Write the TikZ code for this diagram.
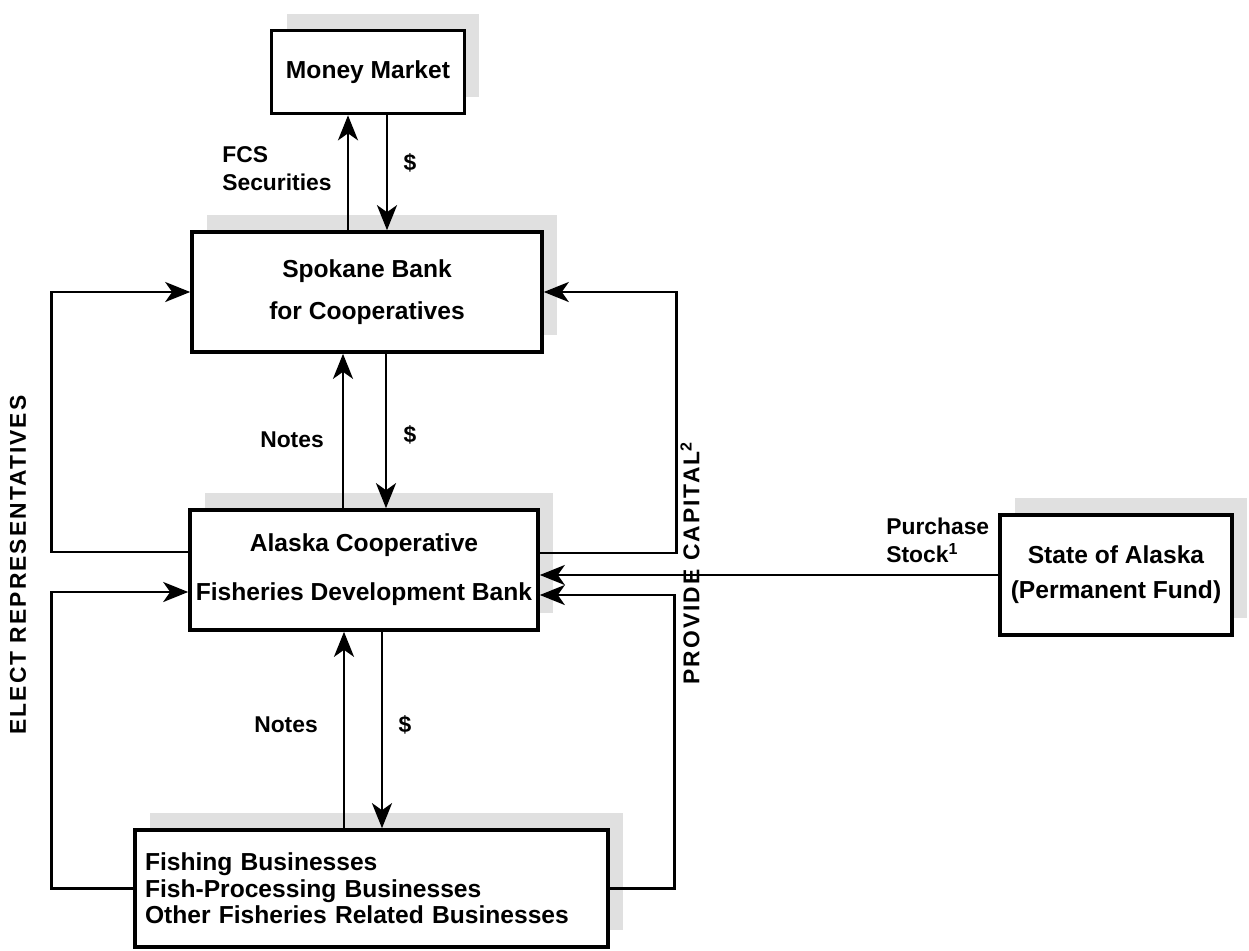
\documentclass[tikz,border=0pt]{standalone}
\usepackage{fontspec}
\setmainfont{Liberation Sans}
\usetikzlibrary{arrows.meta, shadows}
\tikzset{
  bx/.style = {draw=black, fill=white, line width=2.1pt, inner sep=0pt,
    align=center, font=\bfseries\fontsize{14}{17}\selectfont,
    drop shadow={shadow xshift=0.3cm, shadow yshift=0.34cm,
      fill=black!12, opacity=1}},
  seta/.style = {-{Stealth[length=5mm, width=4mm, inset=1.4mm]}, line width=1.6pt},
  lbl/.style = {font=\bfseries\fontsize{13}{16}\selectfont, inner sep=0pt},
  vlbl/.style = {lbl, rotate=90, font=\bfseries\fontsize{13}{16}\selectfont\addfontfeature{LetterSpace=9}}
}

\begin{document}
\begin{tikzpicture}[x=0.02cm, y=-0.02cm]
  \fill[white] (0,0) rectangle (1249,951);
  \useasboundingbox (0,0) rectangle (1249,951);

  % boxes
  \node [bx, minimum width=3.86cm, minimum height=1.66cm] (mm) at (368,72) {Money Market};
  \node [bx, minimum width=7cm, minimum height=2.4cm] (sp) at (367,292)
    {Spokane Bank\\[7pt]for Cooperatives};
  \node [bx, minimum width=6.96cm, minimum height=2.4cm] (ac) at (364,570)
    {Alaska Cooperative\\[11pt]Fisheries Development Bank};
  \node [bx, minimum width=4.64cm, minimum height=2.4cm] (st) at (1116,575)
    {State of Alaska\\[3pt](Permanent Fund)};
  \node [bx, minimum height=2.34cm, text width=9.06cm, inner xsep=0.2cm,
    align=left] (fb) at (371.5,888.5)
    {Fishing Businesses\\[-2pt]Fish-Processing Businesses\\[-2pt]Other Fisheries Related Businesses};

  % flows up and down
  \draw [seta] ([xshift=-0.38cm]sp.north) -- ([xshift=-0.38cm]sp.north |- mm.south);
  \draw [seta] ([xshift=0.38cm]mm.south) -- ([xshift=0.38cm]mm.south |- sp.north);
  \draw [seta] ([xshift=-0.42cm]ac.north) -- ([xshift=-0.42cm]ac.north |- sp.south);
  \draw [seta] ([xshift=0.38cm]sp.south) -- ([xshift=0.38cm]sp.south |- ac.north);
  \draw [seta] ([xshift=-0.55cm]fb.north) -- ([xshift=-0.55cm]fb.north |- ac.south);
  \draw [seta] ([xshift=0.36cm]ac.south) -- ([xshift=0.36cm]ac.south |- fb.north);

  % loops
  \draw [seta] ([yshift=0.36cm]ac.west) -- ++(-137,0) |- (sp.west);
  \draw [seta] (fb.west) -- ++(-82,0) |- ([yshift=-0.44cm]ac.west);
  \draw [seta] ([yshift=0.34cm]ac.east) -- ++(137,0) |- (sp.east);
  \draw [seta] (fb.east) -- ++(65,0) |- ([yshift=-0.5cm]ac.east);
  \draw [seta] (st.west) -- (ac.east |- st.west);

  % labels
  \node [lbl, anchor=west, align=left] (fcs) at (222,169) {FCS\\Securities};
  \node [lbl] (d1) at (410,163) {\$};
  \node [lbl] (n1) at (292,440) {Notes};
  \node [lbl] (d2) at (410,435) {\$};
  \node [lbl] (n2) at (286,725) {Notes};
  \node [lbl] (d3) at (405,725) {\$};
  \node [lbl, anchor=west, align=left] (ps) at (886,540) {Purchase\\Stock\textsuperscript{1}};
  \node [vlbl] (pc) at (690,563) {PROVIDE CAPITAL\textsuperscript{2}};
  \node [vlbl] (er) at (18,565) {ELECT REPRESENTATIVES};
\end{tikzpicture}
\end{document}
